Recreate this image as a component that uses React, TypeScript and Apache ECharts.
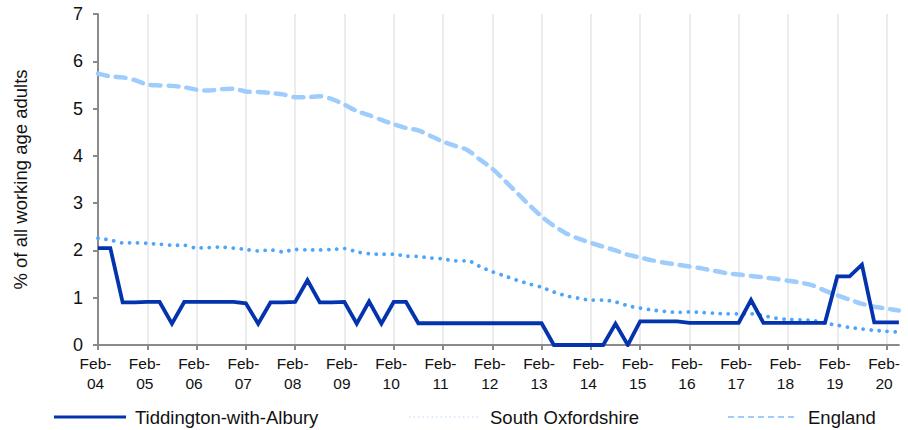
import React, { useEffect, useRef } from "react";
import * as echarts from "echarts";

const years = ["04","05","06","07","08","09","10","11","12","13","14","15","16","17","18","19","20"];
const months = ["Feb", "May", "Aug", "Nov"];
const categories: string[] = [];
years.forEach((y) => months.forEach((m) => categories.push(`${m}-${y}`)));
categories.length = 66; // Feb-04 .. May-20

const tiddington = [
  2.05, 2.05, 0.9, 0.9, 0.91, 0.91, 0.45, 0.91, 0.91, 0.91, 0.91, 0.91, 0.88, 0.45, 0.9, 0.9,
  0.91, 1.37, 0.9, 0.9, 0.91, 0.45, 0.92, 0.45, 0.91, 0.91, 0.46, 0.46, 0.46, 0.46, 0.46, 0.46,
  0.46, 0.46, 0.46, 0.46, 0.46, 0, 0, 0, 0, 0, 0.45, 0, 0.5, 0.5, 0.5, 0.5,
  0.47, 0.47, 0.47, 0.47, 0.47, 0.95, 0.47, 0.47, 0.47, 0.47, 0.47, 0.47, 1.45, 1.45, 1.7, 0.48,
  0.48, 0.48,
];

const southOxfordshire = [
  2.26, 2.22, 2.16, 2.16, 2.15, 2.13, 2.11, 2.11, 2.05, 2.06, 2.07, 2.05, 2.02, 1.99, 2.01, 1.97,
  2.02, 2.01, 2.01, 2.02, 2.04, 1.97, 1.93, 1.92, 1.92, 1.88, 1.87, 1.84, 1.82, 1.78, 1.78, 1.66,
  1.55, 1.46, 1.37, 1.29, 1.22, 1.12, 1.04, 0.99, 0.95, 0.95, 0.91, 0.83, 0.78, 0.74, 0.71, 0.69,
  0.7, 0.69, 0.67, 0.66, 0.66, 0.66, 0.62, 0.57, 0.54, 0.53, 0.52, 0.46, 0.42, 0.37, 0.34, 0.31,
  0.29, 0.27,
];

const england = [
  5.74, 5.68, 5.66, 5.6, 5.51, 5.49, 5.48, 5.45, 5.4, 5.38, 5.41, 5.42, 5.36, 5.35, 5.33, 5.3,
  5.24, 5.24, 5.26, 5.2, 5.08, 4.95, 4.86, 4.76, 4.67, 4.59, 4.54, 4.42, 4.3, 4.21, 4.12, 3.92,
  3.73, 3.48, 3.22, 2.96, 2.72, 2.52, 2.36, 2.25, 2.16, 2.08, 2.0, 1.91, 1.85, 1.79, 1.74, 1.7,
  1.66, 1.62, 1.57, 1.52, 1.49, 1.46, 1.43, 1.4, 1.36, 1.32, 1.26, 1.15, 1.05, 0.96, 0.87, 0.81,
  0.77, 0.73,
];

const seriesNames = ["Tiddington-with-Albury", "South Oxfordshire", "England"];
const yAxisTitle = "% of all working age adults";

const COLORS = { tidd: "#0433AE", south: "#4EA4FA", eng: "#9ECDFD" };
const FONT = "Liberation Sans, Arial, sans-serif";

export default function App() {
  const ref = useRef<HTMLDivElement>(null);
  useEffect(() => {
    if (!ref.current) return;
    const chart = echarts.init(ref.current, undefined, { renderer: "svg" });
    const legendY = 417;
    const legendFont = `18.5px ${FONT}`;
    chart.setOption({
      animation: false,
      textStyle: { fontFamily: FONT },
      grid: { left: 98, right: 4, top: 14, bottom: 85, containLabel: false },
      xAxis: {
        type: "category",
        data: categories,
        boundaryGap: false,
        axisLine: { lineStyle: { color: "#8a8a8a", width: 2 } },
        axisTick: { interval: 3, length: 5, lineStyle: { color: "#8a8a8a", width: 2 } },
        axisLabel: {
          interval: 3,
          fontSize: 15.5,
          lineHeight: 20,
          color: "#111",
          margin: 8,
          padding: [0, 5, 0, 0],
          fontFamily: FONT,
          formatter: (v: string) => v.replace("-", "-\n"),
        },
        splitLine: { show: true, interval: 3, lineStyle: { color: "#ececec", width: 2 } },
      },
      yAxis: {
        type: "value",
        min: 0,
        max: 7,
        interval: 1,
        name: yAxisTitle,
        nameLocation: "middle",
        nameGap: 68,
        nameRotate: 90,
        nameTextStyle: { fontSize: 18.5, color: "#111", fontFamily: FONT },
        axisLine: { show: true, lineStyle: { color: "#8a8a8a", width: 2 } },
        axisTick: { show: true, length: 5, lineStyle: { color: "#8a8a8a", width: 2 } },
        axisLabel: { fontSize: 18, color: "#111", margin: 15, fontFamily: FONT },
        splitLine: { show: false },
      },
      series: [
        {
          name: seriesNames[2],
          type: "line",
          data: england,
          smooth: 0.3,
          symbol: "none",
          lineStyle: { color: COLORS.eng, width: 4.5, type: [10, 8], cap: "round" },
          z: 1,
        },
        {
          name: seriesNames[1],
          type: "line",
          data: southOxfordshire,
          smooth: 0.3,
          symbol: "none",
          lineStyle: { color: COLORS.south, width: 3.8, type: [0.01, 8], cap: "round" },
          z: 2,
        },
        {
          name: seriesNames[0],
          type: "line",
          data: tiddington,
          symbol: "none",
          lineStyle: { color: COLORS.tidd, width: 3.8, join: "miter" },
          z: 3,
        },
      ],
      graphic: [
        { type: "line", shape: { x1: 54, y1: legendY, x2: 126, y2: legendY }, style: { stroke: COLORS.tidd, lineWidth: 3 } },
        { type: "text", x: 135, y: legendY, style: { text: seriesNames[0], fill: "#111", font: legendFont, verticalAlign: "middle" } },
        { type: "line", shape: { x1: 409, y1: legendY, x2: 478, y2: legendY }, style: { stroke: "#cfe4fb", lineWidth: 1.5, lineDash: [1.5, 3] } },
        { type: "text", x: 490, y: legendY, style: { text: seriesNames[1], fill: "#111", font: legendFont, verticalAlign: "middle" } },
        { type: "line", shape: { x1: 728, y1: legendY, x2: 797, y2: legendY }, style: { stroke: COLORS.eng, lineWidth: 2, lineDash: [6, 4] } },
        { type: "text", x: 808, y: legendY, style: { text: seriesNames[2], fill: "#111", font: legendFont, verticalAlign: "middle" } },
      ],
    });
    return () => chart.dispose();
  }, []);
  return <div ref={ref} style={{ width: 908, height: 430, position: "absolute", left: 0, top: 0 }} />;
}
